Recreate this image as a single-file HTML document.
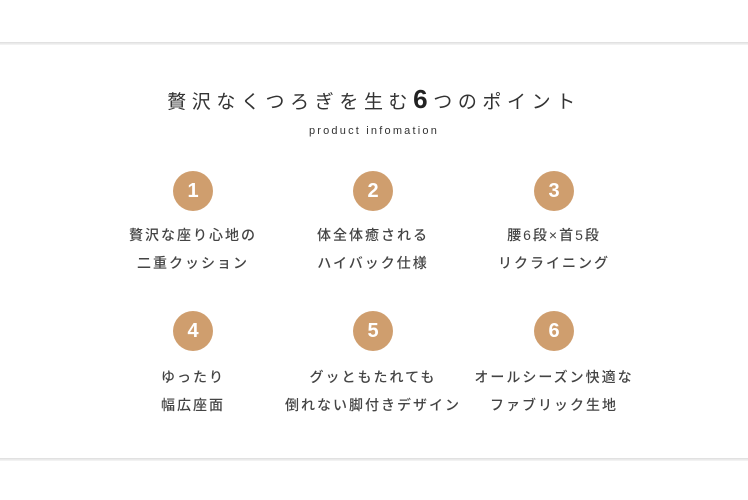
<!DOCTYPE html>
<html><head><meta charset="utf-8"><style>
body{margin:0;width:748px;height:500px;background:#fff;position:relative;overflow:hidden;font-family:"Liberation Sans","Noto Sans CJK JP",sans-serif;color:#444}
.line{position:absolute;left:0;width:748px;height:3px;background:linear-gradient(#ddd,#f6f6f6)}
.t{position:absolute;left:0;width:748px;text-align:center}
.c{position:absolute;width:40px;height:40px;border-radius:50%;background:#cf9e6e;color:#fff;font-weight:bold;font-size:20px;line-height:40px;text-align:center}
.l{position:absolute;width:200px;text-align:center;font-size:14px;letter-spacing:2px;line-height:28px;font-weight:500}
</style></head><body>
<div class="line" style="top:42px"></div>
<div class="line" style="top:458px"></div>
<div class="t" style="top:84px;font-size:19px;letter-spacing:5.6px;color:#333">贅沢なくつろぎを生む<b style="font-size:26px;color:#222">6</b>つのポイント</div>
<div class="t" style="top:125px;font-size:11px;letter-spacing:2.2px;color:#333">product infomation</div>
<div class="c" style="left:173px;top:171px">1</div>
<div class="c" style="left:353px;top:171px">2</div>
<div class="c" style="left:534px;top:171px">3</div>
<div class="c" style="left:173px;top:311px">4</div>
<div class="c" style="left:353px;top:311px">5</div>
<div class="c" style="left:534px;top:311px">6</div>
<div class="l" style="left:93px;top:221px">贅沢な座り心地の<br>二重クッション</div>
<div class="l" style="left:273px;top:221px">体全体癒される<br>ハイバック仕様</div>
<div class="l" style="left:454px;top:221px">腰6段×首5段<br>リクライニング</div>
<div class="l" style="left:93px;top:363px">ゆったり<br>幅広座面</div>
<div class="l" style="left:263px;top:363px;width:220px">グッともたれても<br>倒れない脚付きデザイン</div>
<div class="l" style="left:444px;top:363px;width:220px">オールシーズン快適な<br>ファブリック生地</div>
</body></html>
